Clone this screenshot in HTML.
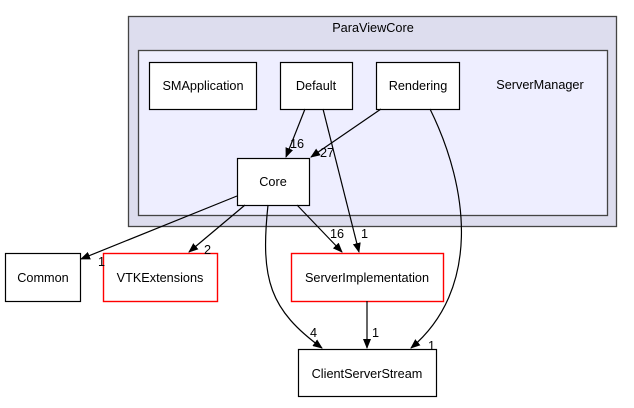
<!DOCTYPE html>
<html><head><meta charset="utf-8"><style>
html,body{margin:0;padding:0;background:#fff;}
svg text{font-family:"Liberation Sans",Arial,sans-serif;font-size:12.7px;}
</style></head><body>
<svg width="634" height="403" viewBox="0 0 634 403" xmlns="http://www.w3.org/2000/svg">
<defs><marker id="a" markerWidth="10" markerHeight="8" refX="9" refY="4" orient="auto" markerUnits="userSpaceOnUse"><path d="M0,0 L10,4 L0,8 z" fill="#000"/></marker></defs>
<rect x="128.5" y="16.5" width="488" height="210" fill="#ddddee" stroke="#444" stroke-width="1.3"/>
<text x="373" y="32" text-anchor="middle">ParaViewCore</text>
<rect x="138.5" y="50.5" width="469" height="165" fill="#eeeeff" stroke="#444" stroke-width="1.3"/>
<text x="540" y="89" text-anchor="middle">ServerManager</text>
<g fill="#fff" stroke="#000" stroke-width="1.2">
<rect x="149.5" y="62.5" width="107" height="47"/>
<rect x="280.5" y="62.5" width="72" height="47"/>
<rect x="376.5" y="62.5" width="83" height="47"/>
<rect x="237.5" y="158.5" width="72" height="47"/>
<rect x="5.5" y="253.5" width="75" height="48"/>
<rect x="298.5" y="349.5" width="138" height="47"/>
</g>
<g fill="#fff" stroke="#ff0000" stroke-width="1.4">
<rect x="103.5" y="253.5" width="114" height="48"/>
<rect x="291.5" y="253.5" width="152" height="48"/>
</g>
<g text-anchor="middle">
<text x="203" y="90">SMApplication</text>
<text x="316" y="90">Default</text>
<text x="418" y="90">Rendering</text>
<text x="273" y="186">Core</text>
<text x="43" y="282">Common</text>
<text x="160" y="282">VTKExtensions</text>
<text x="367" y="282">ServerImplementation</text>
<text x="367" y="378">ClientServerStream</text>
</g>
<g fill="none" stroke="#000" stroke-width="1.2" marker-end="url(#a)">
<path d="M305,109 L286,157"/>
<path d="M323,109 L359,252"/>
<path d="M381,109 L311,157"/>
<path d="M430,109 C470,190 480,290 411,348"/>
<path d="M237,196 L81,259"/>
<path d="M245,205 L189,252"/>
<path d="M268,205 C260,280 270,310 322,348"/>
<path d="M297,205 L342,252"/>
<path d="M367,301 L367,348"/>
</g>
<g>
<text x="290" y="148">16</text>
<text x="320" y="157">27</text>
<text x="361" y="238">1</text>
<text x="330" y="238">16</text>
<text x="98" y="266">1</text>
<text x="204" y="254">2</text>
<text x="310" y="337">4</text>
<text x="372" y="337">1</text>
<text x="428" y="350">1</text>
</g>
</svg>
</body></html>
